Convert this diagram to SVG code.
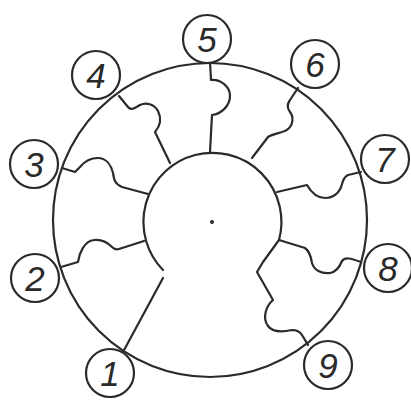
<svg xmlns="http://www.w3.org/2000/svg" width="411" height="404" viewBox="0 0 411 404">
<style>
.ln{fill:none;stroke:#2a2a2a;stroke-width:2.2;stroke-linecap:round;stroke-linejoin:round}
.nc{fill:#fff;stroke:#2a2a2a;stroke-width:2.2}
.num{font-family:"Liberation Sans",Arial,sans-serif;font-style:italic;font-size:35px;fill:#2a2a2a;text-anchor:middle}
</style>
<rect width="411" height="404" fill="#fff"/>
<g id="rim"><circle class="ln" cx="210" cy="220" r="157"/></g>
<g id="hub"><path class="ln" d="M163,270 A69,69 0 1 1 279,240"/><circle cx="212" cy="222" r="2" fill="#2a2a2a"/></g>
<g id="connectors">
<path class="ln" d="M163,278 L123,352"/>
<path class="ln" d="M61,267 L78,262 C79,254 84,241 94,240 C102,239 107,242 112,247 C114,249 116,250 119,249 L144,241"/>
<path class="ln" d="M62,168 L75,172 L80,167 C84,162 90,158 98,158 C106,158 111,165 113,173 C114,180 115,184 122,187 L148,194"/>
<path class="ln" d="M119,96 L128,107 C131,111 135,108 140,105 C146,102 154,104 158,111 C161,117 161,125 155,132 L170,163"/>
<path class="ln" d="M210,62 L211,80 C220,79 230,86 230,96 C230,106 221,114 212,115 L210,152"/>
<path class="ln" d="M298,88 L290,100 C287,104 287,108 290,112 C294,117 293,125 288,129 C284,133 274,133 268,137 L252,158"/>
<path class="ln" d="M361,172 L348,175 C344,177 343,180 342,184 C340,193 333,198 325,198 C317,198 311,192 307,185 L277,192"/>
<path class="ln" d="M279,240 L305,248 C309,251 311,256 312,263 C314,270 321,274 330,273 C336,272 340,266 342,261 C345,257 350,258 361,262"/>
<path class="ln" d="M279,240 L263,262 L257,272 L273,300 C266,306 262,318 268,326 C273,333 283,332 292,330 C297,330 300,332 302,335 L308,345"/>
</g>
<g id="n1"><circle class="nc" cx="110" cy="373" r="24"/><text class="num" x="110" y="386">1</text></g>
<g id="n2"><circle class="nc" cx="35" cy="278" r="24"/><text class="num" x="35" y="291">2</text></g>
<g id="n3"><circle class="nc" cx="34" cy="164" r="24"/><text class="num" x="34" y="177">3</text></g>
<g id="n4"><circle class="nc" cx="96" cy="75" r="24"/><text class="num" x="96" y="88">4</text></g>
<g id="n5"><circle class="nc" cx="207" cy="39" r="24"/><text class="num" x="207" y="52">5</text></g>
<g id="n6"><circle class="nc" cx="315" cy="64" r="24"/><text class="num" x="315" y="77">6</text></g>
<g id="n7"><circle class="nc" cx="385" cy="159" r="24"/><text class="num" x="385" y="172">7</text></g>
<g id="n8"><circle class="nc" cx="388" cy="268" r="24"/><text class="num" x="388" y="281">8</text></g>
<g id="n9"><circle class="nc" cx="328" cy="365" r="24"/><text class="num" x="328" y="378">9</text></g>
</svg>
